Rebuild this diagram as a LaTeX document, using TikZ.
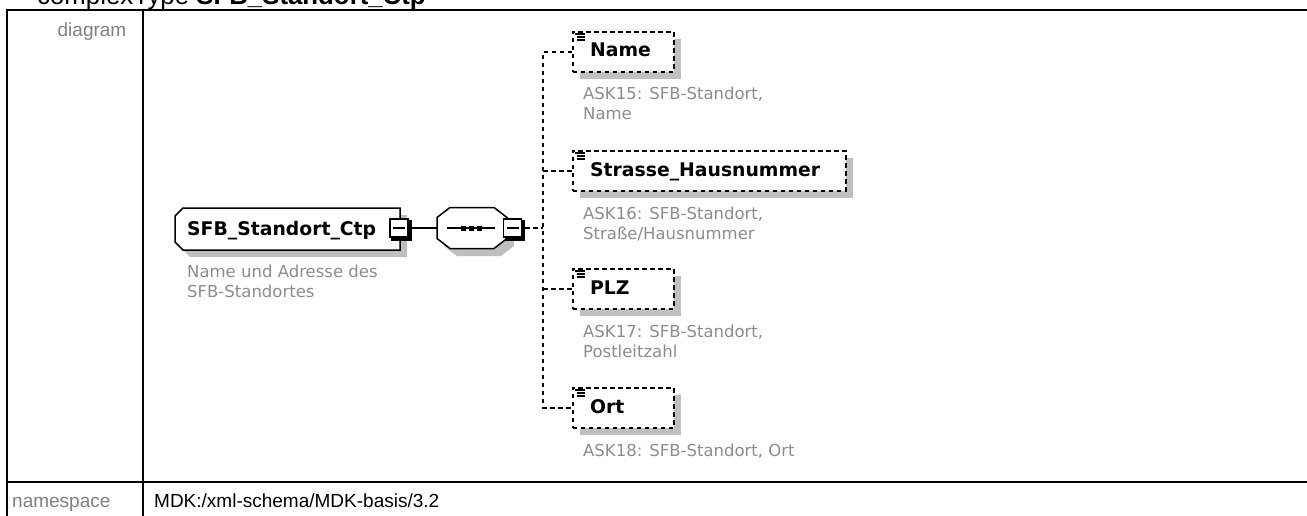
\documentclass[tikz,border=0pt]{standalone}
\usepackage{fontspec}
\setmainfont{Liberation Sans}
\newfontfamily\dvfont{DejaVu Sans}
\usetikzlibrary{calc,shadows}
\begin{document}
\begin{tikzpicture}[x=1pt,y=-1pt,
  tbl/.style={line width=2pt},
  lbl/.style={inner sep=0pt, text=black!50, font=\fontsize{19}{22}\selectfont},
  val/.style={inner sep=0pt, text=black, font=\fontsize{19}{22}\selectfont},
  bxtext/.style={inner sep=0pt, anchor=base west, font=\dvfont\bfseries\fontsize{18.8}{22}\selectfont},
  desc/.style={inner sep=0pt, anchor=base west, text=black!45, font=\dvfont\fontsize{16.5}{20}\selectfont},
  shadowc/.style={fill=black!25, draw=none},
  elem/.style={draw, line width=1.6pt, dash pattern=on 4.5pt off 3.5pt, fill=white, inner sep=0pt,
    minimum height=40pt, anchor=north west,
    drop shadow={shadow xshift=7pt, shadow yshift=-7pt, fill=black!25, opacity=1}},
  minusbox/.style={draw, fill=white, line width=1.4pt, minimum size=18pt, inner sep=0pt,
    path picture={\draw[line width=1.4pt] ($(path picture bounding box.west)+(3,0)$) -- ($(path picture bounding box.east)+(-3,0)$);}},
  solidconn/.style={line width=1.5pt},
  dashconn/.style={line width=1.6pt, dash pattern=on 4.5pt off 3.5pt},
  ]
\useasboundingbox (0,0) rectangle (1307,516);

% title (clipped at top, as in the reference)
\node[inner sep=0pt, anchor=base west, font=\fontsize{25.8}{30}\selectfont] (title) at (37,5) {complexType \textbf{SFB\_Standort\_Ctp}};

% table
\draw[tbl] (6,10.5) -- (1320,10.5);
\draw[tbl] (7,9.5) -- (7,530);
\draw[tbl] (143,9.5) -- (143,530);
\draw[tbl] (6,481.5) -- (1320,481.5);

\node[lbl, anchor=base east] (lbldiagram) at (126.5,37) {diagram};
\node[lbl, anchor=base west] (lblns) at (12,507) {namespace};
\node[val, anchor=base west] (valns) at (154,507) {MDK:/xml-schema/MDK-basis/3.2};

% main complex type box
\fill[shadowc] (190,215) -- (407,215) -- (407,257) -- (190,257) -- (182,249) -- (182,223) -- cycle;
\draw[fill=white, line width=1.5pt] (183,208) -- (400,208) -- (400,250) -- (183,250) -- (175,242) -- (175,216) -- cycle;
\node[bxtext] (mainlabel) at (187,235) {SFB\_Standort\_Ctp};
\node[desc] (maindesc1) at (187,277) {Name und Adresse des};
\node[desc] (maindesc2) at (187,297) {SFB-Standortes};

% sequence compositor
\fill[shadowc] (457,215) -- (501,215) -- (514,225) -- (514,246) -- (501,256) -- (457,256) -- (444,246) -- (444,225) -- cycle;
\node[inner sep=0pt, minimum width=70pt, minimum height=41pt] (seq) at (472,228) {};
\draw[fill=white, line width=1.5pt] (450,207.5) -- (494,207.5) -- (507,217.5) -- (507,238.5) -- (494,248.5) -- (450,248.5) -- (437,238.5) -- (437,217.5) -- cycle;
\draw[line width=1.5pt] (447,228) -- (495,228);
\fill (460.5,225.5) rectangle (466,230.5);
\fill (468.5,225.5) rectangle (474,230.5);
\fill (476.5,225.5) rectangle (482,230.5);

% minus boxes
\node[minusbox] (mainminus) at (399,228) {};
\draw[line width=3pt] ($(mainminus.north east)+(1.6,2)$) -- ($(mainminus.south east)+(1.6,1.6)$) -- ($(mainminus.south west)+(2,1.6)$);
\node[minusbox] (seqminus) at (512.5,228) {};
\draw[line width=3pt] ($(seqminus.north east)+(1.6,2)$) -- ($(seqminus.south east)+(1.6,1.6)$) -- ($(seqminus.south west)+(2,1.6)$);

% element boxes
\node[elem, minimum width=101pt] (elName) at (572,31) {};
\node[elem, minimum width=273pt] (elStr) at (572,150) {};
\node[elem, minimum width=101pt] (elPLZ) at (572,268) {};
\node[elem, minimum width=101pt] (elOrt) at (572,387) {};

\foreach \e in {elName,elStr,elPLZ,elOrt}{
  \draw[line width=1.1pt] ($(\e.north west)+(2.5,3)$) -- ++(10,0);
  \draw[line width=1.1pt] ($(\e.north west)+(4.5,6)$) -- ++(8,0);
  \draw[line width=1.1pt] ($(\e.north west)+(4.5,9)$) -- ++(8,0);
}

\node[bxtext] (tName) at (590,57) {Name};
\node[bxtext] (tStr) at (590,176) {Strasse\_Hausnummer};
\node[bxtext] (tPLZ) at (590,294) {PLZ};
\node[bxtext] (tOrt) at (590,413) {Ort};

\node[desc] (dName1) at (583,100) {ASK15: SFB-Standort,};
\node[desc] (dName2) at (583,120) {Name};
\node[desc] (dStr1) at (583,219) {ASK16: SFB-Standort,};
\node[desc] (dStr2) at (583,239) {Straße/Hausnummer};
\node[desc] (dPLZ1) at (583,337) {ASK17: SFB-Standort,};
\node[desc] (dPLZ2) at (583,357) {Postleitzahl};
\node[desc] (dOrt1) at (583,456) {ASK18: SFB-Standort, Ort};

% connectors
\coordinate (trunkMid) at (543,228);
\draw[solidconn] (mainminus.east) -- (seq.west);
\draw[dashconn] ($(seqminus.east)+(3,0)$) -- (trunkMid);
\draw[dashconn] (elName.west) -- (elName.west -| trunkMid) -- (elOrt.west -| trunkMid) -- (elOrt.west);
\draw[dashconn] (elStr.west -| trunkMid) -- (elStr.west);
\draw[dashconn] (elPLZ.west -| trunkMid) -- (elPLZ.west);
\end{tikzpicture}
\end{document}
